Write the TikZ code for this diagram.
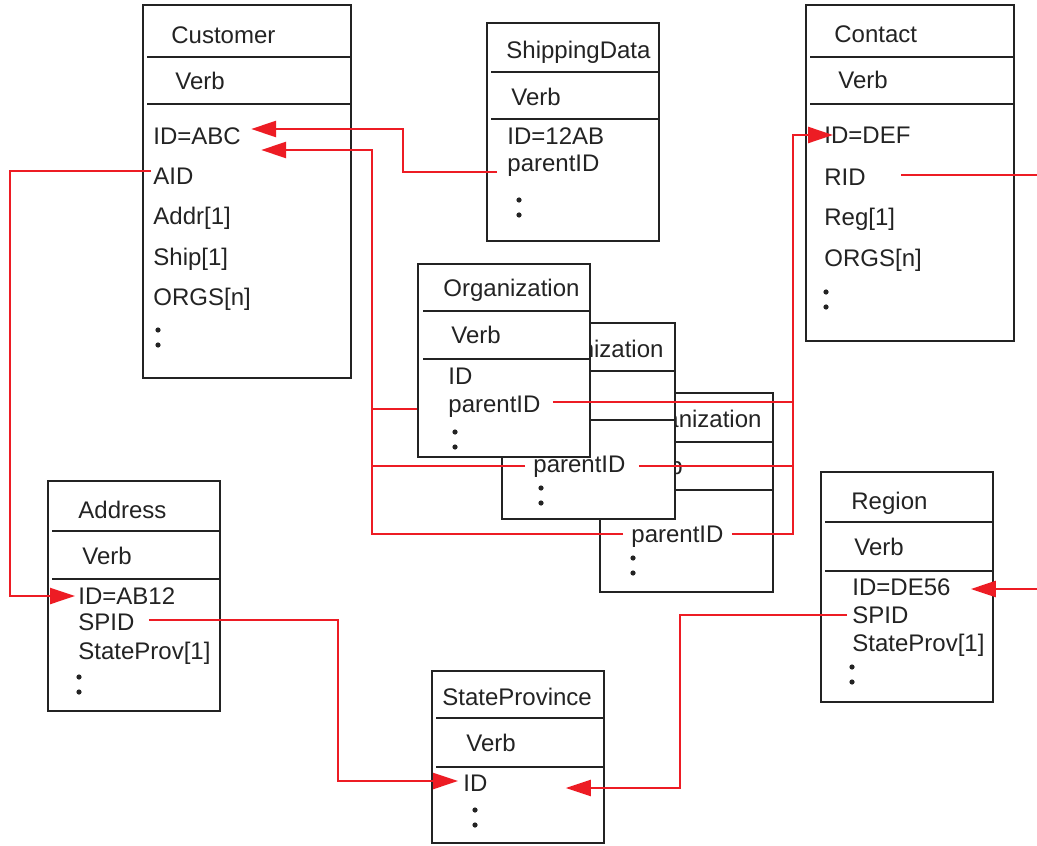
\documentclass[tikz,border=0pt]{standalone}
\usepackage{fontspec}
\setmainfont{Liberation Sans}
\usetikzlibrary{arrows.meta,fit}

\definecolor{linkred}{RGB}{237,28,36}
\definecolor{ink}{RGB}{35,35,35}

\begin{document}
\begin{tikzpicture}[
	x=0.5pt, y=-0.5pt, % one unit is one pixel of the reference, y grows downwards
	box/.style={draw=ink, line width=0.6pt, fill=white, inner sep=0pt},
	rule/.style={draw=ink, line width=0.6pt},
	item/.style={anchor=west, inner sep=1pt, text height=8.6pt, text depth=0pt, text=ink, font=\fontsize{12}{14}\selectfont},
	link/.style={draw=linkred, line width=1.2pt},
	ref/.style={link, -{Triangle[length=12.5pt, width=8pt]}}
	]
	\newcommand{\moredots}[2]{\fill[ink] (#1,#2) circle (1.3pt) (#1,#2+15) circle (1.3pt);}
	\useasboundingbox (0,0) rectangle (1037,845);

	% Customer
	\node[box, fit={(143,5) (351,378)}] (cust) {};
	\draw[rule] (147,57) -- (351,57) (147,104) -- (351,104);
	\node[item] (custtitle) at (169,35) {Customer};
	\node[item] (custverb) at (173,81) {Verb};
	\node[item] (custid) at (151,136) {ID=ABC};
	\node[item] (custaid) at (151,176) {AID};
	\node[item] (custaddr) at (151,216) {Addr[1]};
	\node[item] (custship) at (151,257) {Ship[1]};
	\node[item] (custorgs) at (151,297) {ORGS[n]};
	\moredots{158}{330}

	% ShippingData
	\node[box, fit={(487,23) (659,241)}] (ship) {};
	\draw[rule] (491,72) -- (659,72) (491,119) -- (659,119);
	\node[item] (shiptitle) at (504,50) {ShippingData};
	\node[item] (shipverb) at (509,97) {Verb};
	\node[item] (shipid) at (505,136) {ID=12AB};
	\node[item] (shippid) at (505,163) {parentID};
	\moredots{519}{200}

	% Contact
	\node[box, fit={(806,5) (1014,341)}] (cont) {};
	\draw[rule] (810,57) -- (1014,57) (810,104) -- (1014,104);
	\node[item] (conttitle) at (832,34) {Contact};
	\node[item] (contverb) at (836,80) {Verb};
	\node[item] (contid) at (822,135) {ID=DEF};
	\node[item] (contrid) at (822,177) {RID};
	\node[item] (contreg) at (822,217) {Reg[1]};
	\node[item] (contorgs) at (822,258) {ORGS[n]};
	\moredots{826}{292}

	% Organization, third copy (back)
	\node[box, fit={(600,393) (773,592)}] (org3) {};
	\draw[rule] (605,442) -- (773,442) (605,490) -- (773,490);
	\node[item] (org3title) at (623,419) {Organization};
	\node[item] (org3verb) at (631,466) {Verb};
	\node[item] (org3id) at (628,507) {ID};
	\node[item] (org3pid) at (629,534) {parentID};
	\moredots{633}{558}

	% Organization, second copy
	\node[box, fit={(502,323) (675,519)}] (org2) {};
	\draw[rule] (507,371) -- (675,371) (507,420) -- (675,420);
	\node[item] (org2title) at (525,349) {Organization};
	\node[item] (org2verb) at (533,396) {Verb};
	\node[item] (org2id) at (530,437) {ID};
	\node[item] (org2pid) at (531,464) {parentID};
	\moredots{541}{488}

	% Organization, front
	\node[box, fit={(418,264) (590,457)}] (org1) {};
	\draw[rule] (423,311) -- (590,311) (423,359) -- (590,359);
	\node[item] (org1title) at (441,288) {Organization};
	\node[item] (org1verb) at (449,335) {Verb};
	\node[item] (org1id) at (446,376) {ID};
	\node[item] (org1pid) at (446,404) {parentID};
	\moredots{455}{432}

	% Address
	\node[box, fit={(48,481) (220,711)}] (addr) {};
	\draw[rule] (52,531) -- (220,531) (52,579) -- (220,579);
	\node[item] (addrtitle) at (76,510) {Address};
	\node[item] (addrverb) at (80,556) {Verb};
	\node[item] (addrid) at (76,596) {ID=AB12};
	\node[item] (addrspid) at (76,622) {SPID};
	\node[item] (addrsp) at (76,651) {StateProv[1]};
	\moredots{79}{677}

	% StateProvince
	\node[box, fit={(432,671) (604,843)}] (sp) {};
	\draw[rule] (436,718) -- (604,718) (436,767) -- (604,767);
	\node[item] (sptitle) at (440,697) {StateProvince};
	\node[item] (spverb) at (464,743) {Verb};
	\node[item] (spid) at (461,783) {ID};
	\moredots{475}{810}

	% Region
	\node[box, fit={(821,472) (993,702)}] (reg) {};
	\draw[rule] (825,522) -- (993,522) (825,571) -- (993,571);
	\node[item] (regtitle) at (849,501) {Region};
	\node[item] (regverb) at (852,547) {Verb};
	\node[item] (regid) at (850,587) {ID=DE56};
	\node[item] (regspid) at (850,615) {SPID};
	\node[item] (regsp) at (850,643) {StateProv[1]};
	\moredots{852}{667}

	% bus lines and arrow ends
	\coordinate (lbus) at (372,0);
	\coordinate (rbus) at (793,0);
	\coordinate (rim) at (1037,0);
	\coordinate (custtip) at ([xshift=4pt,yshift=3.5pt]custid.east);
	\coordinate (orgtip) at ([xshift=9pt,yshift=-7pt]custid.east);
	\coordinate (conttip) at ([xshift=5.5pt]contid.west);
	\coordinate (addrtip) at ([xshift=-0.5pt]addrid.west);
	\coordinate (sptip) at ([xshift=-1.5pt,yshift=1pt]spid.west);
	\coordinate (sptwo) at ([xshift=38pt,yshift=-2.5pt]spid.east);
	\coordinate (regtip) at ([xshift=9pt,yshift=-1pt]regid.east);

	% links
	\draw[ref] ([xshift=-4pt,yshift=-4.5pt]shippid.west) -- ++(-94,0) |- (custtip);
	\draw[ref] ([xshift=-3pt]org3pid.west) -| (lbus |- orgtip) -- (orgtip);
	\draw[link] ([xshift=-3pt,yshift=-1pt]org2pid.west) -- ([yshift=-1pt]lbus |- org2pid);
	\draw[link] ([yshift=-2.5pt]org1.west |- org1pid) -- ([yshift=-2.5pt]lbus |- org1pid);
	\draw[ref] ([xshift=3pt]org3pid.east) -| (rbus |- conttip) -- (conttip);
	\draw[link] ([xshift=5.5pt,yshift=-1pt]org2pid.east) -- ([yshift=-1pt]rbus |- org2pid);
	\draw[link] ([xshift=5pt,yshift=1pt]org1pid.east) -- ([yshift=1pt]rbus |- org1pid);
	\draw[ref] ([yshift=2.5pt]custaid.west) -- ++(-141,0) |- (addrtip);
	\draw[ref] ([xshift=6pt,yshift=1pt]addrspid.east) -- ++(189,0) |- (sptip);
	\draw[ref] ([xshift=-1.5pt]regspid.west) -- ++(-167,0) |- (sptwo);
	\draw[link] ([xshift=16.5pt,yshift=1pt]contrid.east) -- ([yshift=1pt]rim |- contrid);
	\draw[ref] (rim |- regtip) -- (regtip);
\end{tikzpicture}
\end{document}
